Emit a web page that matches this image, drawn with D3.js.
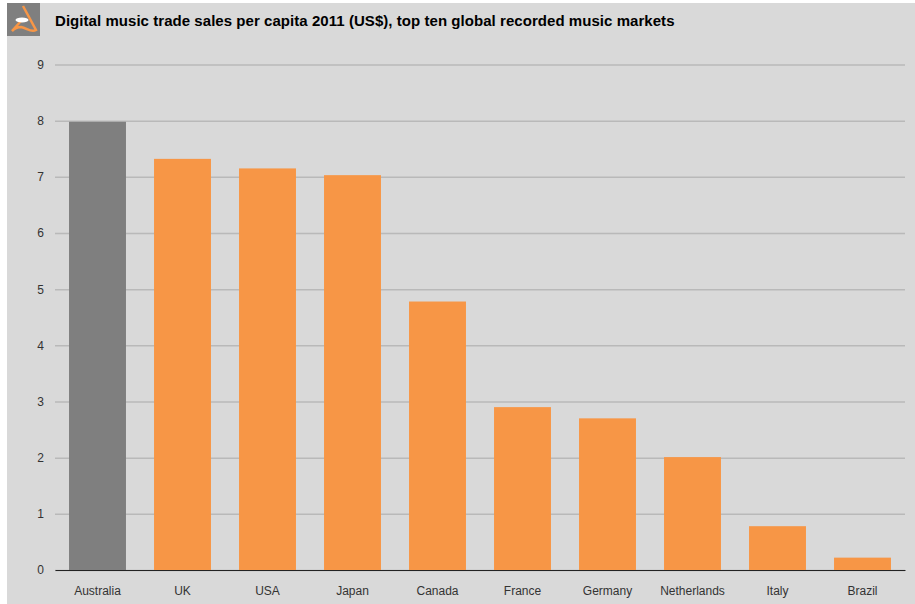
<!DOCTYPE html>
<html>
<head>
<meta charset="utf-8">
<script src="https://cdn.jsdelivr.net/npm/d3@7"></script>
<style>
  html, body { margin: 0; padding: 0; background: #fff; }
  svg { display: block; }
  text { font-family: "Liberation Sans", Arial, sans-serif; }
</style>
</head>
<body>
<svg></svg>
<script>
let titleText = 'Digital music trade sales per capita 2011 (US$), top ten global recorded music markets'
let countries = ['Australia', 'UK', 'USA', 'Japan', 'Canada', 'France', 'Germany', 'Netherlands', 'Italy', 'Brazil']
let salesPerCapita = [7.98, 7.32, 7.15, 7.03, 4.78, 2.9, 2.7, 2.01, 0.78, 0.22]
let yTicks = [0, 1, 2, 3, 4, 5, 6, 7, 8, 9]

function drawChart () {
  let svgWidth = 915
  let svgHeight = 604
  let margin = { top: 64.5, right: 10, bottom: 34, left: 55 }

  let svg = d3.select('svg')
    .attr('width', svgWidth)
    .attr('height', svgHeight)

  // grey panel behind everything
  svg.append('rect')
    .attr('x', 7)
    .attr('y', 3)
    .attr('width', svgWidth - 7)
    .attr('height', svgHeight - 3)
    .attr('fill', '#d9d9d9')

  // logo
  let logo = svg.append('g').attr('transform', 'translate(7, 3)')
  logo.append('rect')
    .attr('width', 33)
    .attr('height', 33)
    .attr('fill', '#7f7f7f')
  logo.append('path')
    .attr('d', 'M16 3 L29 27 C24 30 20 25 14 24 C10 24 7 26 5 28 L14 18')
    .attr('fill', 'none')
    .attr('stroke', '#f79646')
    .attr('stroke-width', 2.5)
  logo.append('ellipse')
    .attr('cx', 15)
    .attr('cy', 17)
    .attr('rx', 6.5)
    .attr('ry', 2.5)
    .attr('fill', '#fff')

  svg.append('text')
    .attr('x', 55)
    .attr('y', 26)
    .attr('font-size', 15)
    .attr('font-weight', 'bold')
    .attr('letter-spacing', 0.05)
    .attr('fill', '#000')
    .text(titleText)

  let x = d3.scaleBand()
    .domain(countries)
    .range([margin.left, svgWidth - margin.right])
    .paddingInner(0.33)
    .paddingOuter(0.165)

  let y = d3.scaleLinear()
    .domain([0, 9])
    .range([svgHeight - margin.bottom, margin.top])

  let yAxis = svg.append('g')
    .attr('transform', `translate(${margin.left}, 0)`)
    .call(d3.axisLeft(y)
      .tickValues(yTicks)
      .tickSize(-(svgWidth - margin.left - margin.right))
      .tickPadding(11)
      .tickFormat(d3.format('d')))
  yAxis.select('.domain').remove()
  yAxis.selectAll('.tick line')
    .attr('stroke', '#b9b9b9')
    .attr('stroke-width', 1.5)
  yAxis.selectAll('.tick text')
    .attr('font-size', 12)
    .attr('fill', '#333')

  svg.selectAll('.bar')
    .data(countries)
    .enter()
    .append('rect')
    .attr('class', 'bar')
    .attr('x', (d) => x(d))
    .attr('y', (d, i) => y(salesPerCapita[i]))
    .attr('width', x.bandwidth())
    .attr('height', (d, i) => y(0) - y(salesPerCapita[i]))
    .attr('fill', (d) => d === 'Australia' ? '#7f7f7f' : '#f79646')

  let xAxis = svg.append('g')
    .attr('transform', `translate(0, ${y(0)})`)
    .call(d3.axisBottom(x).tickSize(0).tickPadding(16))
  xAxis.select('.domain')
    .attr('stroke', '#222')
  xAxis.selectAll('.tick text')
    .attr('font-size', 12)
    .attr('fill', '#333')
}

drawChart()
</script>
</body>
</html>
